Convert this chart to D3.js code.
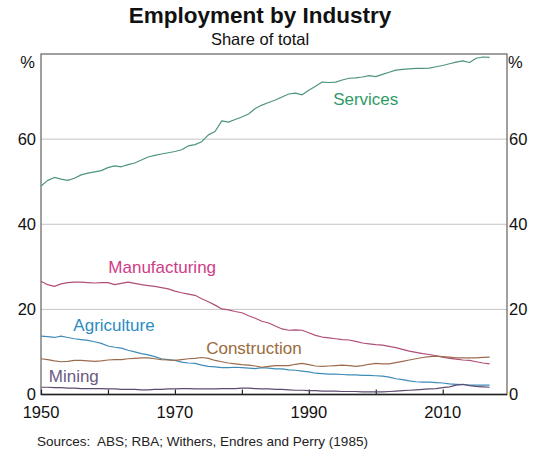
<!DOCTYPE html>
<html>
<head>
<meta charset="utf-8">
<script src="https://cdn.jsdelivr.net/npm/d3@7"></script>
<style>
  html, body { margin: 0; padding: 0; background: #fff; }
  svg { display: block; font-family: "Liberation Sans", Arial, sans-serif; }
</style>
</head>
<body>
<svg id="chart" width="547" height="461"></svg>
<script>
const years = d3.range(1950, 2018);
const services = [49.0,50.3,51.0,50.6,50.3,50.8,51.6,52.0,52.3,52.6,53.3,53.7,53.5,54.0,54.4,55.1,55.8,56.2,56.5,56.8,57.1,57.5,58.4,58.7,59.4,61.0,61.8,64.3,64.0,64.6,65.2,65.9,67.2,68.0,68.6,69.2,69.9,70.6,70.8,70.4,71.5,72.4,73.4,73.3,73.4,73.9,74.3,74.4,74.6,74.9,74.7,75.2,75.7,76.2,76.4,76.5,76.6,76.6,76.7,77.0,77.3,77.7,78.1,78.4,78.0,79.0,79.3,79.2];
const manufacturing = [26.6,25.8,25.4,26.0,26.3,26.4,26.4,26.3,26.2,26.3,26.3,25.8,26.1,26.4,26.1,25.8,25.6,25.4,25.1,24.8,24.3,23.9,23.6,23.3,22.5,21.8,21.0,20.1,19.9,19.5,19.2,18.5,17.9,17.2,16.8,16.1,15.4,15.1,15.2,15.1,14.5,13.9,13.5,13.3,13.1,12.9,12.8,12.5,12.1,11.9,11.7,11.6,11.3,11.0,10.6,10.2,9.9,9.6,9.4,9.1,8.8,8.5,8.3,8.1,8.0,7.7,7.4,7.2];
const agriculture = [13.7,13.6,13.4,13.7,13.4,13.1,12.9,12.7,12.4,12.0,11.4,11.1,10.9,10.4,10.0,9.6,9.3,8.9,8.4,8.2,8.0,7.6,7.4,7.3,6.9,6.6,6.5,6.3,6.3,6.4,6.3,6.2,6.1,6.3,6.2,6.0,6.0,5.8,5.7,5.5,5.3,5.0,4.9,4.8,4.8,4.7,4.6,4.6,4.5,4.5,4.4,4.3,4.1,3.7,3.5,3.2,3.0,2.9,2.9,2.8,2.7,2.5,2.4,2.3,2.2,2.2,2.2,2.2];
const construction = [8.4,8.2,7.9,7.7,7.8,8.0,8.0,7.9,7.8,7.9,8.1,8.2,8.2,8.4,8.5,8.6,8.6,8.4,8.2,8.1,8.0,8.2,8.4,8.5,8.7,8.5,8.0,7.7,7.4,7.2,7.0,6.9,6.7,6.4,6.6,6.8,6.8,6.8,7.1,7.3,7.0,6.7,6.6,6.7,6.8,6.9,6.8,6.6,6.8,7.1,7.3,7.2,7.2,7.5,7.8,8.1,8.4,8.7,8.9,9.0,8.9,8.8,8.6,8.6,8.6,8.6,8.7,8.8];
const mining = [1.7,1.7,1.6,1.6,1.5,1.5,1.4,1.4,1.4,1.4,1.3,1.3,1.2,1.2,1.2,1.1,1.1,1.2,1.2,1.3,1.3,1.4,1.4,1.3,1.3,1.3,1.3,1.4,1.4,1.4,1.5,1.5,1.4,1.3,1.3,1.2,1.2,1.1,1.0,1.0,0.9,0.9,0.8,0.8,0.8,0.7,0.7,0.7,0.6,0.6,0.6,0.6,0.7,0.8,0.9,1.0,1.1,1.2,1.3,1.4,1.6,1.8,2.2,2.4,2.1,1.9,1.8,1.7];

const seriesNames = ["Services","Manufacturing","Agriculture","Construction","Mining"];
const seriesValues = [services, manufacturing, agriculture, construction, mining];
const yTicks = [0, 20, 40, 60];
const xTickYears = [1950, 1960, 1970, 1980, 1990, 2000, 2010];
const xLabelYears = [1950, 1970, 1990, 2010];

const lineColors = { Services: "#4f957c", Manufacturing: "#b04f78", Agriculture: "#3f8cb8", Construction: "#9c6c4c", Mining: "#5e4c70" };
const labelColors = { Services: "#2f9a66", Manufacturing: "#cf3c86", Agriculture: "#2b8cc2", Construction: "#9a6a3c", Mining: "#6a5a82" };
// label anchor positions in data space (year, value)
const labelPos = { Services: [1998.5, 68.0], Manufacturing: [1968.1, 28.6], Agriculture: [1960.9, 14.9], Construction: [1981.8, 9.5], Mining: [1954.9, 2.95] };

const svg = d3.select("#chart");
const L = 41, R = 507, T = 54, B = 394.5;
const x = d3.scaleLinear().domain([1950, 2019.6]).range([L, R]);
const y = d3.scaleLinear().domain([0, 80]).range([B, T]);

// title
svg.append("text").attr("x", 260).attr("y", 23).attr("text-anchor", "middle")
  .attr("font-size", 22.5).attr("font-weight", "bold").attr("fill", "#111").text("Employment by Industry");
svg.append("text").attr("x", 260).attr("y", 45).attr("text-anchor", "middle")
  .attr("font-size", 16.5).attr("fill", "#111").text("Share of total");

// gridlines
svg.append("g").selectAll("line").data(yTicks.filter(d => d > 0)).join("line")
  .attr("x1", L).attr("x2", R).attr("y1", d => y(d)).attr("y2", d => y(d))
  .attr("stroke", "#c4c4c4").attr("stroke-width", 1);

// frame
svg.append("rect").attr("x", L).attr("y", T).attr("width", R - L).attr("height", B - T)
  .attr("fill", "none").attr("stroke", "#6e6e6e").attr("stroke-width", 1.3);

// y labels
const yl = d3.axisLeft(y).tickValues(yTicks).tickSize(0).tickPadding(5);
const gl = svg.append("g").attr("transform", `translate(${L},0)`).call(yl);
gl.select(".domain").remove();
gl.selectAll("text").attr("font-size", 16.5).attr("fill", "#111").attr("font-family", "Liberation Sans, Arial, sans-serif");
const yr = d3.axisRight(y).tickValues(yTicks).tickSize(0).tickPadding(2);
const gr = svg.append("g").attr("transform", `translate(${R},0)`).call(yr);
gr.select(".domain").remove();
gr.selectAll("text").attr("font-size", 16.5).attr("fill", "#111").attr("font-family", "Liberation Sans, Arial, sans-serif");

svg.append("text").attr("x", 35).attr("y", 68).attr("text-anchor", "end").attr("font-size", 16.5).attr("fill", "#111").text("%");
svg.append("text").attr("x", 508).attr("y", 68).attr("text-anchor", "start").attr("font-size", 16.5).attr("fill", "#111").text("%");

// x axis
const xa = d3.axisTop(x).tickValues(xTickYears).tickSize(5).tickFormat("");
const gx = svg.append("g").attr("transform", `translate(0,${B})`).call(xa);
gx.select(".domain").remove();
gx.selectAll("line").attr("stroke", "#222").attr("stroke-width", 1.2);
svg.append("line").attr("x1", L).attr("x2", R).attr("y1", B).attr("y2", B).attr("stroke", "#222").attr("stroke-width", 1.5);
svg.append("g").selectAll("text").data(xLabelYears).join("text")
  .attr("x", d => x(d)).attr("y", 418).attr("text-anchor", "middle")
  .attr("font-size", 16.5).attr("fill", "#111").text(d => d);

// lines
const line = d3.line().x((d, i) => x(years[i])).y(d => y(d));
const gLines = svg.append("g");
seriesNames.forEach((name, k) => {
  gLines.append("path").datum(seriesValues[k]).attr("d", line)
    .attr("fill", "none").attr("stroke", lineColors[name]).attr("stroke-width", 1.2)
    .attr("stroke-linejoin", "round");
});

// series labels
seriesNames.forEach(name => {
  svg.append("text").attr("x", x(labelPos[name][0])).attr("y", y(labelPos[name][1]))
    .attr("text-anchor", "middle").attr("font-size", 17).attr("fill", labelColors[name]).text(name);
});

// source
svg.append("text").attr("x", 37).attr("y", 446).attr("font-size", 13.5).attr("fill", "#222")
  .attr("xml:space", "preserve").text("Sources:  ABS; RBA; Withers, Endres and Perry (1985)");
</script>
</body>
</html>
